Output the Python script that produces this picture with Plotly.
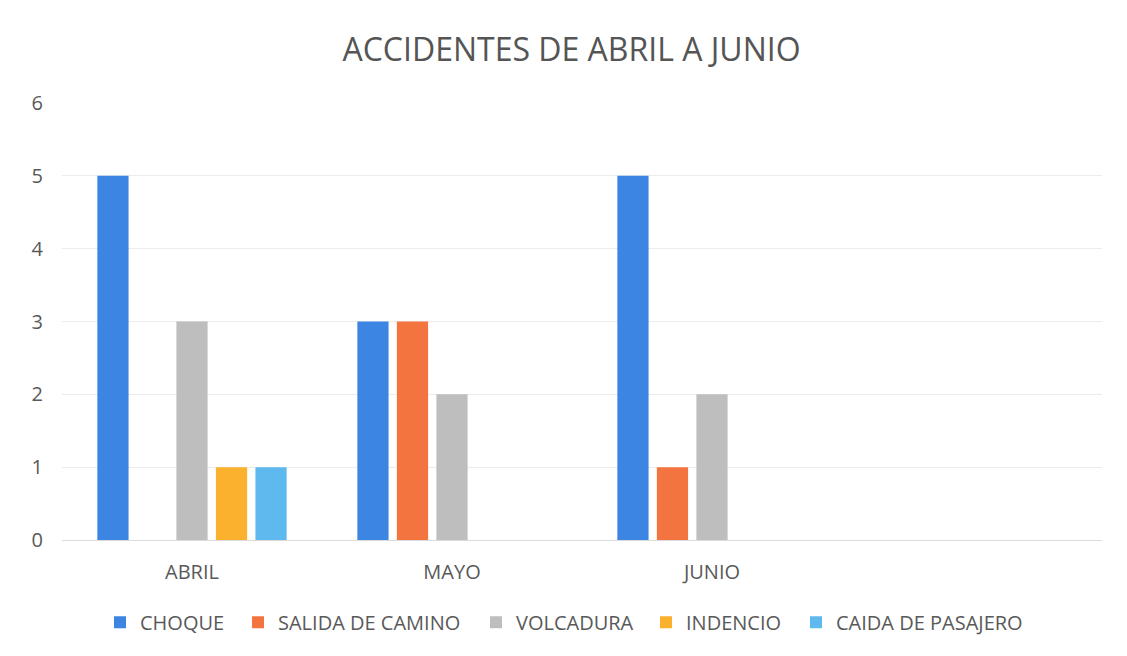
import plotly.graph_objects as go

categories = ["ABRIL", "MAYO", "JUNIO", " "]
series_names = ["CHOQUE", "SALIDA DE CAMINO", "VOLCADURA", "INDENCIO", "CAIDA DE PASAJERO"]
choque = [5, 3, 5, None]
salida = [None, 3, 1, None]
volcadura = [3, 2, 2, None]
indencio = [1, None, None, None]
caida = [1, None, None, None]
colors = ["#3D85E3", "#F47440", "#BEBEBE", "#FBB12E", "#5DB9EE"]

values = [choque, salida, volcadura, indencio, caida]

# page offset of the figure (body margin) and layout geometry
OFF = 8
L, R, T, B = 54, 33, 95, 124
W, H = 1127, 656
PW = W - L - R
# desired legend text start (page px) for each entry
legend_text_x = [140, 278, 516, 686, 836]

fig = go.Figure()
font_fam = "Open Sans, Calibri, Carlito, sans-serif"
legend_layouts = {}
for i, (name, vals, col) in enumerate(zip(series_names, values, colors)):
    lname = "legend" if i == 0 else f"legend{i + 1}"
    fig.add_trace(go.Bar(x=categories, y=vals, name=name, marker_color=col,
                         marker_line_width=0, legend=lname))
    xpx = legend_text_x[i] - OFF - L - 40
    legend_layouts[lname] = dict(
        orientation="h", x=xpx / PW, xanchor="left", y=-0.188, yanchor="middle",
        font=dict(family=font_fam, size=20, color="#595959"),
        bgcolor="rgba(0,0,0,0)", borderwidth=0, itemwidth=30)

fig.update_layout(
    width=W, height=H,
    paper_bgcolor="white", plot_bgcolor="white",
    barmode="group", bargap=0.24, bargroupgap=0.21,
    margin=dict(l=L, r=R, t=T, b=B, autoexpand=False),
    title=dict(text="ACCIDENTES DE ABRIL A JUNIO", x=0.5, xanchor="center",
               y=1 - (50 - OFF) / H, yanchor="middle",
               font=dict(family=font_fam, size=32, color="#555555")),
    font=dict(family=font_fam, size=20, color="#595959"),
    showlegend=True,
    xaxis=dict(type="category", categoryorder="array", categoryarray=categories,
               showgrid=False, showline=True, linecolor="#dcdcdc", ticks="",
               ticklabelstandoff=14,
               automargin=False, tickfont=dict(size=20, color="#595959")),
    yaxis=dict(range=[0, 6], dtick=1, showgrid=True, gridcolor="#ececec",
               zeroline=False, showline=False, ticks="", ticklabelstandoff=18,
               automargin=False, tickfont=dict(size=20, color="#595959")),
    **legend_layouts,
)

fig.write_html("out.html")
